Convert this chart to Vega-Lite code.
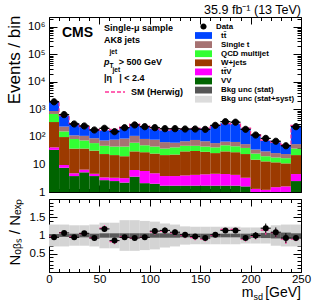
{
  "$schema": "https://vega.github.io/schema/vega-lite/v6.json",
  "padding": {"left": 4, "top": 3, "right": 4, "bottom": 2},
  "background": "white",
  "datasets": {
    "bins": [
      {"m0":0,"m1":10,"mc":5,"VV":34,"ttV":8,"Wjets":308,"QCD":340,"ST":190,"tt":1120,"obs":1900,"r":0.95,"rlo":0.925,"rhi":0.975,"hr":0.96,"hlo":0.935,"hhi":0.985,"hw":1980,"slo":0.96,"shi":1.04,"ylo":0.7,"yhi":1.3},
      {"m0":10,"m1":20,"mc":15,"VV":7.6,"ttV":2,"Wjets":90,"QCD":60,"ST":80,"tt":367,"obs":650,"r":1.07,"rlo":1.03,"rhi":1.11,"hr":1.08,"hlo":1.04,"hhi":1.12,"hw":602,"slo":0.96,"shi":1.04,"ylo":0.7,"yhi":1.3},
      {"m0":20,"m1":30,"mc":25,"VV":3.8,"ttV":1,"Wjets":33,"QCD":47,"ST":30,"tt":198,"obs":297,"r":0.95,"rlo":0.895,"rhi":1.005,"hr":0.96,"hlo":0.905,"hhi":1.015,"hw":309,"slo":0.95,"shi":1.05,"ylo":0.72,"yhi":1.28},
      {"m0":30,"m1":40,"mc":35,"VV":5.2,"ttV":1.3,"Wjets":31.5,"QCD":37,"ST":35,"tt":127,"obs":251,"r":1.06,"rlo":0.995,"rhi":1.125,"hr":1.05,"hlo":0.985,"hhi":1.115,"hw":239,"slo":0.95,"shi":1.05,"ylo":0.72,"yhi":1.28},
      {"m0":40,"m1":50,"mc":45,"VV":3.8,"ttV":0.8,"Wjets":27.4,"QCD":28,"ST":30,"tt":104,"obs":180,"r":0.93,"rlo":0.86,"rhi":1.0,"hr":0.94,"hlo":0.87,"hhi":1.01,"hw":191,"slo":0.95,"shi":1.05,"ylo":0.7,"yhi":1.3},
      {"m0":50,"m1":60,"mc":55,"VV":2.7,"ttV":0.7,"Wjets":20.6,"QCD":24,"ST":27,"tt":100,"obs":207,"r":1.18,"rlo":1.1,"rhi":1.26,"hr":1.2,"hlo":1.12,"hhi":1.28,"hw":172,"slo":0.94,"shi":1.06,"ylo":0.65,"yhi":1.35},
      {"m0":60,"m1":70,"mc":65,"VV":2.5,"ttV":0.8,"Wjets":18.7,"QCD":23,"ST":35,"tt":101,"obs":156,"r":0.86,"rlo":0.79,"rhi":0.93,"hr":0.83,"hlo":0.76,"hhi":0.9,"hw":188,"slo":0.94,"shi":1.06,"ylo":0.65,"yhi":1.35},
      {"m0":70,"m1":80,"mc":75,"VV":2.2,"ttV":1.0,"Wjets":16.8,"QCD":25,"ST":43,"tt":141,"obs":218,"r":0.95,"rlo":0.886,"rhi":1.014,"hr":0.96,"hlo":0.896,"hhi":1.024,"hw":227,"slo":0.94,"shi":1.06,"ylo":0.58,"yhi":1.42},
      {"m0":80,"m1":90,"mc":85,"VV":3.6,"ttV":2.7,"Wjets":23.7,"QCD":32,"ST":48,"tt":185,"obs":274,"r":0.93,"rlo":0.874,"rhi":0.986,"hr":0.93,"hlo":0.874,"hhi":0.986,"hw":295,"slo":0.94,"shi":1.06,"ylo":0.58,"yhi":1.42},
      {"m0":90,"m1":100,"mc":95,"VV":2.1,"ttV":3.7,"Wjets":22.2,"QCD":22,"ST":35,"tt":164,"obs":237,"r":0.95,"rlo":0.888,"rhi":1.012,"hr":0.95,"hlo":0.888,"hhi":1.012,"hw":249,"slo":0.94,"shi":1.06,"ylo":0.6,"yhi":1.4},
      {"m0":100,"m1":110,"mc":105,"VV":2.0,"ttV":2.8,"Wjets":20.2,"QCD":20,"ST":35,"tt":115,"obs":218,"r":1.12,"rlo":1.044,"rhi":1.196,"hr":1.1,"hlo":1.024,"hhi":1.176,"hw":198,"slo":0.94,"shi":1.06,"ylo":0.62,"yhi":1.38},
      {"m0":110,"m1":120,"mc":115,"VV":1.7,"ttV":2.1,"Wjets":18.2,"QCD":16,"ST":27,"tt":110,"obs":200,"r":1.14,"rlo":1.06,"rhi":1.22,"hr":1.12,"hlo":1.04,"hhi":1.2,"hw":179,"slo":0.94,"shi":1.06,"ylo":0.67,"yhi":1.33},
      {"m0":120,"m1":130,"mc":125,"VV":1.7,"ttV":2.1,"Wjets":19.2,"QCD":19,"ST":20,"tt":121,"obs":200,"r":1.09,"rlo":1.013,"rhi":1.167,"hr":1.07,"hlo":0.993,"hhi":1.147,"hw":187,"slo":0.94,"shi":1.06,"ylo":0.7,"yhi":1.3},
      {"m0":130,"m1":140,"mc":135,"VV":1.7,"ttV":2.3,"Wjets":26,"QCD":18,"ST":22,"tt":121,"obs":195,"r":1.02,"rlo":0.947,"rhi":1.093,"hr":1.0,"hlo":0.927,"hhi":1.073,"hw":195,"slo":0.95,"shi":1.05,"ylo":0.75,"yhi":1.25},
      {"m0":140,"m1":150,"mc":145,"VV":1.7,"ttV":2.5,"Wjets":26.8,"QCD":17,"ST":30,"tt":123,"obs":195,"r":0.97,"rlo":0.9,"rhi":1.04,"hr":0.94,"hlo":0.87,"hhi":1.01,"hw":207,"slo":0.95,"shi":1.05,"ylo":0.76,"yhi":1.24},
      {"m0":150,"m1":160,"mc":155,"VV":1.7,"ttV":2.7,"Wjets":24.6,"QCD":16,"ST":25,"tt":134,"obs":190,"r":0.93,"rlo":0.863,"rhi":0.997,"hr":0.9,"hlo":0.833,"hhi":0.967,"hw":211,"slo":0.95,"shi":1.05,"ylo":0.76,"yhi":1.24},
      {"m0":160,"m1":170,"mc":165,"VV":1.7,"ttV":2.9,"Wjets":21.4,"QCD":16,"ST":18,"tt":200,"obs":265,"r":1.02,"rlo":0.957,"rhi":1.083,"hr":1.0,"hlo":0.937,"hhi":1.063,"hw":265,"slo":0.95,"shi":1.05,"ylo":0.76,"yhi":1.24},
      {"m0":170,"m1":180,"mc":175,"VV":1.7,"ttV":2.8,"Wjets":25.5,"QCD":20,"ST":18,"tt":248,"obs":360,"r":1.14,"rlo":1.08,"rhi":1.2,"hr":1.17,"hlo":1.11,"hhi":1.23,"hw":308,"slo":0.95,"shi":1.05,"ylo":0.76,"yhi":1.24},
      {"m0":180,"m1":190,"mc":185,"VV":1.7,"ttV":2.5,"Wjets":23.8,"QCD":18,"ST":20,"tt":237,"obs":345,"r":1.14,"rlo":1.079,"rhi":1.201,"hr":1.17,"hlo":1.109,"hhi":1.231,"hw":295,"slo":0.95,"shi":1.05,"ylo":0.76,"yhi":1.24},
      {"m0":190,"m1":200,"mc":195,"VV":1.6,"ttV":1.7,"Wjets":20.7,"QCD":16,"ST":15,"tt":149,"obs":190,"r":0.93,"rlo":0.863,"rhi":0.997,"hr":0.9,"hlo":0.833,"hhi":0.967,"hw":211,"slo":0.95,"shi":1.05,"ylo":0.78,"yhi":1.22},
      {"m0":200,"m1":210,"mc":205,"VV":1.0,"ttV":0.3,"Wjets":13.7,"QCD":10,"ST":10,"tt":83,"obs":118,"r":1.0,"rlo":0.908,"rhi":1.092,"hr":0.98,"hlo":0.888,"hhi":1.072,"hw":120,"slo":0.94,"shi":1.06,"ylo":0.78,"yhi":1.22},
      {"m0":210,"m1":220,"mc":215,"VV":1.0,"ttV":0.2,"Wjets":11.8,"QCD":7,"ST":10,"tt":44,"obs":89,"r":1.2,"rlo":1.073,"rhi":1.327,"hr":1.15,"hlo":1.023,"hhi":1.277,"hw":77,"slo":0.93,"shi":1.07,"ylo":0.78,"yhi":1.22},
      {"m0":220,"m1":230,"mc":225,"VV":1.0,"ttV":0.5,"Wjets":10.5,"QCD":6,"ST":8,"tt":38,"obs":70,"r":1.09,"rlo":0.96,"rhi":1.22,"hr":1.08,"hlo":0.95,"hhi":1.21,"hw":65,"slo":0.92,"shi":1.08,"ylo":0.72,"yhi":1.28},
      {"m0":230,"m1":240,"mc":235,"VV":1.0,"ttV":0.6,"Wjets":9.4,"QCD":6,"ST":7,"tt":28,"obs":48,"r":0.93,"rlo":0.796,"rhi":1.064,"hr":0.9,"hlo":0.766,"hhi":1.034,"hw":53,"slo":0.92,"shi":1.08,"ylo":0.7,"yhi":1.3},
      {"m0":240,"m1":250,"mc":245,"VV":2.5,"ttV":2.0,"Wjets":17.5,"QCD":16,"ST":17,"tt":200,"obs":237,"r":0.93,"rlo":0.87,"rhi":0.99,"hr":0.9,"hlo":0.84,"hhi":0.96,"hw":263,"slo":0.94,"shi":1.06,"ylo":0.7,"yhi":1.3}
    ]
  },
  "data": {"name": "bins"},
  "spacing": 7,
  "bounds": "flush",
  "vconcat": [
    {
      "width": 252,
      "height": 175,
      "resolve": {"axis": {"x": "independent", "y": "independent"}},
      "layer": [
        {
          "transform": [
            {"fold": ["VV", "ttV", "Wjets", "QCD", "ST", "tt"], "as": ["proc", "n"]},
            {"stack": "n", "groupby": ["m0"], "as": ["lo", "hi"]}
          ],
          "mark": {"type": "rect"},
          "encoding": {
            "x": {"field": "m0", "type": "quantitative", "scale": {"domain": [0, 250], "nice": false, "zero": false},
                  "axis": {"orient": "bottom", "values": [0, 50, 100, 150, 200, 250], "tickSize": -7, "labels": false, "title": null}},
            "x2": {"field": "m1"},
            "y": {"field": "hi", "type": "quantitative", "scale": {"type": "log", "domain": [1, 2310000], "clamp": true, "nice": false},
                  "axis": {"orient": "left", "values": [1, 10, 100, 1000, 10000, 100000, 1000000], "tickSize": -8, "labelPadding": 12,
                           "labelExpr": "datum.value < 5 ? '1' : datum.value < 50 ? '10' : datum.value < 500 ? '10²' : datum.value < 5000 ? '10³' : datum.value < 50000 ? '10⁴' : datum.value < 500000 ? '10⁵' : '10⁶'",
                           "title": "Events / bin", "titleFontSize": 17, "titleAngle": 270, "titleX": -30, "titleY": -2, "titleAlign": "right", "titleBaseline": "alphabetic"}},
            "y2": {"field": "lo"},
            "color": {
              "field": "proc", "type": "nominal",
              "scale": {"domain": ["tt", "ST", "QCD", "Wjets", "ttV", "VV", "stat", "syst"],
                        "range": ["#0044ff", "#a67272", "#33ff33", "#9c3a00", "#ff00ff", "#006400", "#555555", "#dcdcdc"]},
              "legend": {
                "orient": "none", "legendX": 150, "legendY": 14, "title": null, "padding": 0,
                "labelFont": "Liberation Sans", "labelFontWeight": "bold", "labelFontSize": 7.9, "labelColor": "black",
                "symbolType": "M-2,-0.8H2V0.8H-2Z", "symbolSize": 72, "symbolStrokeWidth": 0, "rowPadding": 0.1, "labelOffset": 13,
                "labelExpr": "datum.value == 'tt' ? 'tt̄' : datum.value == 'ST' ? 'Single t' : datum.value == 'QCD' ? 'QCD multijet' : datum.value == 'Wjets' ? 'W+jets' : datum.value == 'ttV' ? 'tt̄V' : datum.value == 'VV' ? 'VV' : datum.value == 'stat' ? 'Bkg unc (stat)' : 'Bkg unc (stat+syst)'"
              }
            }
          }
        },
        {
          "mark": {"type": "line", "interpolate": "step", "color": "#ff3399", "strokeWidth": 1.2},
          "encoding": {
            "x": {"field": "mc", "type": "quantitative", "axis": {"orient": "top", "values": [0, 50, 100, 150, 200, 250], "tickSize": -7, "labels": false, "title": null}},
            "y": {"field": "hw", "type": "quantitative", "axis": {"orient": "right", "values": [1, 10, 100, 1000, 10000, 100000, 1000000], "tickSize": -8, "labels": false, "title": null}},
            "strokeDash": {"datum": "SM (Herwig)", "type": "nominal", "scale": {"domain": ["SM (Herwig)"], "range": [[4, 2]]},
              "legend": {"orient": "none", "legendX": 55, "legendY": 64, "title": null, "padding": 0,
                         "labelFont": "Liberation Sans", "labelFontWeight": "bold", "labelFontSize": 9, "labelColor": "black",
                         "symbolType": "stroke", "symbolSize": 400, "symbolStrokeColor": "#ff3399", "symbolStrokeWidth": 1.5, "symbolDash": [3, 2], "labelOffset": 5}}
          }
        },
        {
          "mark": {"type": "rule", "color": "black", "strokeWidth": 1},
          "encoding": {
            "x": {"field": "m0", "type": "quantitative", "axis": {"orient": "bottom", "values": [10,20,30,40,60,70,80,90,110,120,130,140,160,170,180,190,210,220,230,240], "tickSize": -3.5, "labels": false, "title": null}},
            "x2": {"field": "m1"},
            "y": {"field": "obs", "type": "quantitative", "axis": {"orient": "left", "values": [2,3,4,5,6,7,8,9,20,30,40,50,60,70,80,90,200,300,400,500,600,700,800,900,2000,3000,4000,5000,6000,7000,8000,9000,20000,30000,40000,50000,60000,70000,80000,90000,200000,300000,400000,500000,600000,700000,800000,900000,2000000], "tickSize": -4, "labels": false, "title": null}}
          }
        },
        {
          "mark": {"type": "point", "filled": true, "color": "black", "stroke": "black", "strokeWidth": 1, "size": 60, "opacity": 1},
          "encoding": {
            "x": {"field": "mc", "type": "quantitative", "axis": {"orient": "top", "values": [10,20,30,40,60,70,80,90,110,120,130,140,160,170,180,190,210,220,230,240], "tickSize": -3.5, "labels": false, "title": null}},
            "y": {"field": "obs", "type": "quantitative", "axis": {"orient": "right", "values": [2,3,4,5,6,7,8,9,20,30,40,50,60,70,80,90,200,300,400,500,600,700,800,900,2000,3000,4000,5000,6000,7000,8000,9000,20000,30000,40000,50000,60000,70000,80000,90000,200000,300000,400000,500000,600000,700000,800000,900000,2000000], "tickSize": -4, "labels": false, "title": null}},
            "shape": {"datum": "Data", "type": "nominal",
              "scale": {"domain": ["Data"], "range": ["M-1.2,0H1.2M-0.8,0A0.8,0.8,0,1,1,0.8,0A0.8,0.8,0,1,1,-0.8,0Z"]},
              "legend": {"orient": "none", "legendX": 150, "legendY": 5, "title": null, "padding": 0,
                         "labelFont": "Liberation Sans", "labelFontWeight": "bold", "labelFontSize": 7.9, "labelColor": "black",
                         "symbolSize": 60, "symbolFillColor": "black", "symbolStrokeColor": "black", "symbolStrokeWidth": 1, "labelOffset": 8}}
          }
        },
        {
          "data": {"values": [{}]},
          "mark": {"type": "text", "text": "35.9 fb⁻¹ (13 TeV)", "font": "Liberation Sans", "fontSize": 12.5, "align": "right", "baseline": "alphabetic", "dy": -3},
          "encoding": {"x": {"datum": 250, "type": "quantitative", "axis": null}, "y": {"datum": 2310000, "type": "quantitative", "axis": null}}
        },
        {
          "data": {"values": [{}]},
          "mark": {"type": "text", "text": "CMS", "font": "Liberation Sans", "fontWeight": "bold", "fontSize": 14, "align": "left", "baseline": "alphabetic"},
          "encoding": {"x": {"datum": 12.9, "type": "quantitative", "axis": null}, "y": {"datum": 432500, "type": "quantitative", "axis": null}}
        },
        {
          "data": {"values": [{}]},
          "mark": {"type": "text", "text": "Single-μ sample", "font": "Liberation Sans", "fontWeight": "bold", "fontSize": 9, "align": "left", "baseline": "alphabetic"},
          "encoding": {"x": {"datum": 54.56, "type": "quantitative", "axis": null}, "y": {"datum": 715300, "type": "quantitative", "axis": null}}
        },
        {
          "data": {"values": [{}]},
          "mark": {"type": "text", "text": "AK8 jets", "font": "Liberation Sans", "fontWeight": "bold", "fontSize": 9, "align": "left", "baseline": "alphabetic"},
          "encoding": {"x": {"datum": 54.56, "type": "quantitative", "axis": null}, "y": {"datum": 262000, "type": "quantitative", "axis": null}}
        },
        {
          "data": {"values": [{}]},
          "mark": {"type": "text", "text": "p", "font": "Liberation Sans", "fontWeight": "bold", "fontStyle": "italic", "fontSize": 9, "align": "left", "baseline": "alphabetic"},
          "encoding": {"x": {"datum": 54.56, "type": "quantitative", "axis": null}, "y": {"datum": 39810, "type": "quantitative", "axis": null}}
        },
        {
          "data": {"values": [{}]},
          "mark": {"type": "text", "text": "T", "font": "Liberation Sans", "fontWeight": "bold", "fontSize": 6.5, "align": "left", "baseline": "alphabetic", "dx": 5.5, "dy": 3},
          "encoding": {"x": {"datum": 54.56, "type": "quantitative", "axis": null}, "y": {"datum": 39810, "type": "quantitative", "axis": null}}
        },
        {
          "data": {"values": [{}]},
          "mark": {"type": "text", "text": "jet", "font": "Liberation Sans", "fontWeight": "bold", "fontSize": 6.5, "align": "left", "baseline": "alphabetic", "dx": 5.5, "dy": -11.5},
          "encoding": {"x": {"datum": 54.56, "type": "quantitative", "axis": null}, "y": {"datum": 39810, "type": "quantitative", "axis": null}}
        },
        {
          "data": {"values": [{}]},
          "mark": {"type": "text", "text": "> 500 GeV", "font": "Liberation Sans", "fontWeight": "bold", "fontSize": 9, "align": "left", "baseline": "alphabetic", "dx": 14.7},
          "encoding": {"x": {"datum": 54.56, "type": "quantitative", "axis": null}, "y": {"datum": 39810, "type": "quantitative", "axis": null}}
        },
        {
          "data": {"values": [{}]},
          "mark": {"type": "text", "text": "|η", "font": "Liberation Sans", "fontWeight": "bold", "fontSize": 9, "align": "left", "baseline": "alphabetic"},
          "encoding": {"x": {"datum": 54.56, "type": "quantitative", "axis": null}, "y": {"datum": 10430, "type": "quantitative", "axis": null}}
        },
        {
          "data": {"values": [{}]},
          "mark": {"type": "text", "text": "jet", "font": "Liberation Sans", "fontWeight": "bold", "fontSize": 6.5, "align": "left", "baseline": "alphabetic", "dx": 8.5, "dy": -9},
          "encoding": {"x": {"datum": 54.56, "type": "quantitative", "axis": null}, "y": {"datum": 10430, "type": "quantitative", "axis": null}}
        },
        {
          "data": {"values": [{}]},
          "mark": {"type": "text", "text": "| < 2.4", "font": "Liberation Sans", "fontWeight": "bold", "fontSize": 9, "align": "left", "baseline": "alphabetic", "dx": 15.3},
          "encoding": {"x": {"datum": 54.56, "type": "quantitative", "axis": null}, "y": {"datum": 10430, "type": "quantitative", "axis": null}}
        }
      ]
    },
    {
      "width": 252,
      "height": 73,
      "resolve": {"axis": {"x": "independent", "y": "independent"}},
      "layer": [
        {
          "mark": {"type": "rect", "color": "#d4d4d4"},
          "encoding": {
            "x": {"field": "m0", "type": "quantitative", "scale": {"domain": [0, 250], "nice": false, "zero": false},
                  "axis": {"orient": "bottom", "values": [0, 50, 100, 150, 200, 250], "tickSize": -7, "labelPadding": 8.5, "title": null}},
            "x2": {"field": "m1"},
            "y": {"field": "ylo", "type": "quantitative", "scale": {"domain": [0, 2], "nice": false, "zero": false},
                  "axis": {"orient": "left", "values": [0, 0.5, 1, 1.5, 2], "tickSize": -8, "labelPadding": 12,
                           "labelExpr": "datum.value == 0.5 ? '0.5' : datum.value == 1 ? '1' : datum.value == 1.5 ? '1.5' : ''",
                           "title": "Nₒᵦₛ / Nₑₓₚ", "titleFontSize": 15, "titleAngle": 270, "titleX": -30, "titleY": -1, "titleAlign": "right", "titleBaseline": "alphabetic"}},
            "y2": {"field": "yhi"}
          }
        },
        {
          "mark": {"type": "rect", "color": "#5a5a5a"},
          "encoding": {
            "x": {"field": "m0", "type": "quantitative", "axis": {"orient": "bottom", "values": [10,20,30,40,60,70,80,90,110,120,130,140,160,170,180,190,210,220,230,240], "tickSize": -3.5, "labels": false, "title": null}},
            "x2": {"field": "m1"},
            "y": {"field": "slo", "type": "quantitative", "axis": {"orient": "left", "values": [0.1,0.2,0.3,0.4,0.6,0.7,0.8,0.9,1.1,1.2,1.3,1.4,1.6,1.7,1.8,1.9], "tickSize": -4, "labels": false, "title": null}},
            "y2": {"field": "shi"}
          }
        },
        {
          "mark": {"type": "rule", "color": "#ff3399", "strokeWidth": 1.2, "strokeDash": [3, 2]},
          "encoding": {
            "x": {"field": "m0", "type": "quantitative", "axis": {"orient": "top", "values": [0, 50, 100, 150, 200, 250], "tickSize": -7, "labels": false, "title": null}},
            "x2": {"field": "m1"},
            "y": {"field": "hr", "type": "quantitative", "axis": {"orient": "right", "values": [0, 0.5, 1, 1.5, 2], "tickSize": -8, "labels": false, "title": null}}
          }
        },
        {
          "mark": {"type": "rule", "color": "#ff3399", "strokeWidth": 1.2, "strokeDash": [3, 2]},
          "encoding": {
            "x": {"field": "mc", "type": "quantitative", "axis": {"orient": "top", "values": [10,20,30,40,60,70,80,90,110,120,130,140,160,170,180,190,210,220,230,240], "tickSize": -3.5, "labels": false, "title": null}},
            "y": {"field": "hlo", "type": "quantitative", "axis": {"orient": "right", "values": [0.1,0.2,0.3,0.4,0.6,0.7,0.8,0.9,1.1,1.2,1.3,1.4,1.6,1.7,1.8,1.9], "tickSize": -4, "labels": false, "title": null}},
            "y2": {"field": "hhi"}
          }
        },
        {
          "mark": {"type": "rule", "color": "black", "strokeWidth": 1},
          "encoding": {
            "x": {"field": "m0", "type": "quantitative", "axis": null},
            "x2": {"field": "m1"},
            "y": {"field": "r", "type": "quantitative", "axis": null}
          }
        },
        {
          "mark": {"type": "rule", "color": "black", "strokeWidth": 1},
          "encoding": {
            "x": {"field": "mc", "type": "quantitative", "axis": null},
            "y": {"field": "rlo", "type": "quantitative", "axis": null},
            "y2": {"field": "rhi"}
          }
        },
        {
          "mark": {"type": "point", "filled": true, "color": "black", "size": 36, "opacity": 1},
          "encoding": {
            "x": {"field": "mc", "type": "quantitative", "axis": null},
            "y": {"field": "r", "type": "quantitative", "axis": null}
          }
        },
        {
          "data": {"values": [{}]},
          "mark": {"type": "text", "text": "[GeV]", "font": "Liberation Sans", "fontSize": 14, "align": "right", "baseline": "alphabetic"},
          "encoding": {"x": {"datum": 250, "type": "quantitative", "axis": null}, "y": {"datum": -0.685, "type": "quantitative", "axis": null}}
        },
        {
          "data": {"values": [{}]},
          "mark": {"type": "text", "text": "sd", "font": "Liberation Sans", "fontSize": 9, "align": "right", "baseline": "alphabetic", "dx": -38, "dy": 3},
          "encoding": {"x": {"datum": 250, "type": "quantitative", "axis": null}, "y": {"datum": -0.685, "type": "quantitative", "axis": null}}
        },
        {
          "data": {"values": [{}]},
          "mark": {"type": "text", "text": "m", "font": "Liberation Sans", "fontSize": 14, "align": "right", "baseline": "alphabetic", "dx": -47.5},
          "encoding": {"x": {"datum": 250, "type": "quantitative", "axis": null}, "y": {"datum": -0.685, "type": "quantitative", "axis": null}}
        }
      ]
    }
  ],
  "config": {
    "view": {"stroke": "black", "strokeWidth": 1},
    "font": "Liberation Sans",
    "axis": {"domain": false, "grid": false, "tickColor": "black", "tickWidth": 1, "labelFont": "Liberation Sans", "labelFontSize": 11.5, "labelColor": "black", "titleFont": "Liberation Sans", "titleColor": "black", "titleFontWeight": "normal", "labelOverlap": false, "labelFlush": false}
  }
}
